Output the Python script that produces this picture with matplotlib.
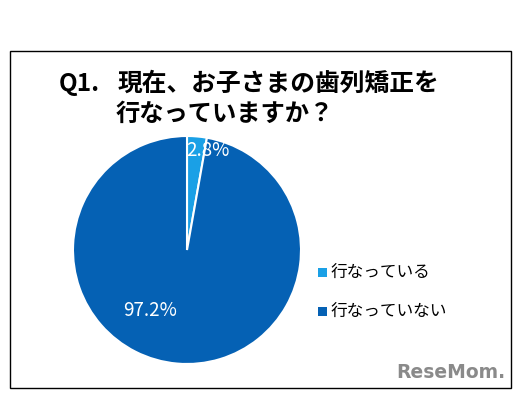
import matplotlib
matplotlib.use("Agg")
import matplotlib.pyplot as plt
from matplotlib.patches import Rectangle

plt.rcParams['font.family'] = ['Noto Sans CJK JP', 'DejaVu Sans']

labels = ["行なっている", "行なっていない"]
values = [2.8, 97.2]
colors = ["#1aa0e6", "#0561b4"]
title_num = "Q1."
title_lines = ["現在、お子さまの歯列矯正を", "行なっていますか？"]

W, H = 516, 395
fig = plt.figure(figsize=(W / 100, H / 100), dpi=100)
fig.patch.set_facecolor("white")

# frame
fig.add_artist(Rectangle((10 / W, 1 - 388 / H), 501 / W, 337 / H, transform=fig.transFigure,
                         fill=False, edgecolor="black", linewidth=1))

# title
fig.text(59 / W, 1 - 84 / H, title_num, fontsize=17.5, fontweight="bold", va="center", ha="left")
fig.text(118 / W, 1 - 84 / H, title_lines[0], fontsize=17.8, fontweight="bold", va="center", ha="left")
fig.text(116 / W, 1 - 114 / H, title_lines[1], fontsize=17.5, fontweight="bold", va="center", ha="left")

# pie
cx, cy, r = 187, 250, 114
ax = fig.add_axes([(cx - r) / W, 1 - (cy + r) / H, 2 * r / W, 2 * r / H])
wedges, _ = ax.pie(values, colors=colors, startangle=90, counterclock=False,
                   wedgeprops=dict(edgecolor="white", linewidth=1.5))
ax.set_aspect("equal")
ax.set_xlim(-1, 1)
ax.set_ylim(-1, 1)
ax.axis("off")

# labels
fig.text(208 / W, 1 - 150 / H, f"{values[0]}%", color="white", fontsize=13.5,
         ha="center", va="center")
fig.text(150 / W, 1 - 310 / H, f"{values[1]}%", color="white", fontsize=13.5,
         ha="center", va="center")

# legend
for i, (lab, col) in enumerate(zip(labels, colors)):
    y = 272 + i * 39
    fig.add_artist(Rectangle((318 / W, 1 - (y + 5) / H), 9 / W, 9 / H,
                             transform=fig.transFigure, facecolor=col, edgecolor="none"))
    fig.text(331 / W, 1 - y / H, lab, fontsize=12, ha="left", va="center")

# logo
fig.text(505 / W, 1 - 373 / H, "ReseMom.", fontsize=13.5, fontweight="bold", color="#8a8a8a",
         ha="right", va="center", family=["DejaVu Sans"])

fig.savefig("out.png", dpi=100)
